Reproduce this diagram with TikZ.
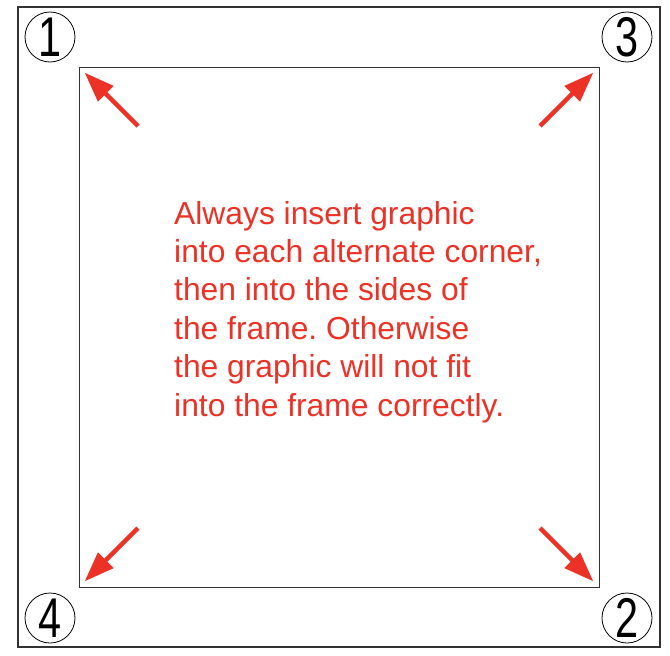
\documentclass[tikz,border=0pt]{standalone}
\usepackage{fontspec}
\setmainfont{Liberation Sans}
\usetikzlibrary{arrows.meta,positioning,calc}
\definecolor{notered}{RGB}{236,50,38}
\definecolor{framegray}{RGB}{50,50,50}
\newcommand{\cornerno}[1]{\scalebox{0.74}[1]{\fontsize{56}{56}\selectfont #1}}
\frenchspacing

\begin{document}
\begin{tikzpicture}[x=1pt,y=-1pt,
  numcircle/.style={draw,circle,thick,inner sep=0pt,minimum size=50pt},
  redarrow/.style={draw=notered,line width=4.5pt,-{Triangle[length=30pt,width=21pt]}}]
\useasboundingbox (0,0) rectangle (670,656);
\draw[framegray,line width=2pt] (18,7) rectangle (660,647);
\node[draw=framegray,line width=0.8pt,minimum width=520pt,minimum height=520pt,inner sep=0pt] (frame) at (339,327) {};
% corner numbers
\node[numcircle] (n1) at (50,37) {\cornerno{1}};
\node[numcircle] (n3) at (627,37) {\cornerno{3}};
\node[numcircle] (n4) at (50,618) {\cornerno{4}};
\node[numcircle] (n2) at (627,618) {\cornerno{2}};
% arrow tails
\coordinate (t1) at (138,126);\coordinate (t3) at (540,126);
\coordinate (t4) at (138,528);\coordinate (t2) at (540,528);
\draw[redarrow] (t1)--($(frame.north west)+(6,6)$);
\draw[redarrow] (t3)--($(frame.north east)+(-6,6)$);
\draw[redarrow] (t4)--($(frame.south west)+(6,-6)$);
\draw[redarrow] (t2)--($(frame.south east)+(-6,-6)$);
\node[anchor=base west,align=left,text=notered,inner sep=0pt,font=\fontsize{31.8}{38.4}\selectfont] (note) at (174,416)
 {Always insert graphic\\into each alternate corner,\\then into the sides of\\the frame. Otherwise\\the graphic will not fit\\into the frame correctly.};
\end{tikzpicture}
\end{document}
